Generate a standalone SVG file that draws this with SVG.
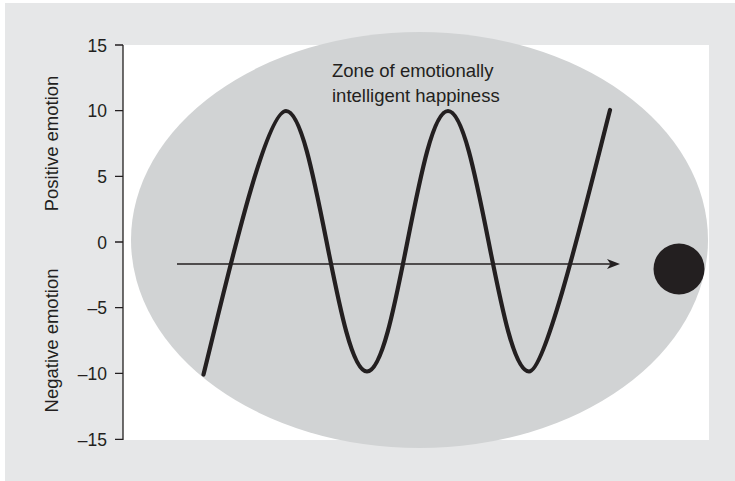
<svg xmlns="http://www.w3.org/2000/svg" width="735" height="481" viewBox="0 0 735 481">
<style>
.lbl{font-family:"Liberation Sans",Arial,sans-serif;font-size:18.5px;fill:#231f20}
.tick{font-family:"Liberation Sans",Arial,sans-serif;font-size:17.5px;fill:#231f20;text-anchor:end}
.ax{stroke:#231f20;stroke-width:1.3;fill:none}
</style>
<defs>
<marker id="ah" markerUnits="userSpaceOnUse" markerWidth="13" markerHeight="10" refX="6" refY="5" orient="auto">
<path d="M0,0 L13,5 L0,10 L3.5,5 Z" fill="#231f20"/>
</marker>
</defs>
<rect x="5" y="3" width="730" height="478" fill="#e6e7e8"/>
<rect x="123" y="45" width="586" height="395" fill="#ffffff"/>
<g id="zone">
<ellipse cx="419.5" cy="240" rx="288.5" ry="208" fill="#d1d3d4"/>
<text class="lbl" x="332" y="77">Zone of emotionally</text>
<text class="lbl" x="332" y="102">intelligent happiness</text>
</g>
<g id="axis">
<line class="ax" x1="123" y1="45" x2="123" y2="440"/>
<path class="ax" d="M115,45H123M115,110.7H123M115,176.3H123M115,242H123M115,307.7H123M115,373.3H123M115,439.3H123"/>
<text class="tick" x="107" y="51.5">15</text>
<text class="tick" x="107" y="117.2">10</text>
<text class="tick" x="107" y="182.8">5</text>
<text class="tick" x="107" y="248.5">0</text>
<text class="tick" x="107" y="314.2">–5</text>
<text class="tick" x="107" y="379.8">–10</text>
<text class="tick" x="107" y="445.8">–15</text>
<text class="lbl" transform="translate(58,143.5) rotate(-90)" text-anchor="middle">Positive emotion</text>
<text class="lbl" transform="translate(58,340.5) rotate(-90)" text-anchor="middle">Negative emotion</text>
</g>
<g id="dot">
<circle cx="679" cy="269" r="25.5" fill="#231f20"/>
</g>
<g id="connectors">
<line x1="177" y1="264" x2="613" y2="264" stroke="#231f20" stroke-width="1.3" marker-end="url(#ah)"/>
<path d="M203.5,374.5 C225,288 265,111 286,111 C300.66,111 313.29,174.5 326.5,241.25 S352.34,371.5 367,371.5 S394.29,308 407.5,241.25 S433.34,111 448,111 S475.29,174.5 488.5,241.25 S514.34,371.5 529,371.5 C546,371.5 588,196 610,110" fill="none" stroke="#231f20" stroke-width="4.2" stroke-linecap="round" stroke-linejoin="round"/>
</g>
</svg>
